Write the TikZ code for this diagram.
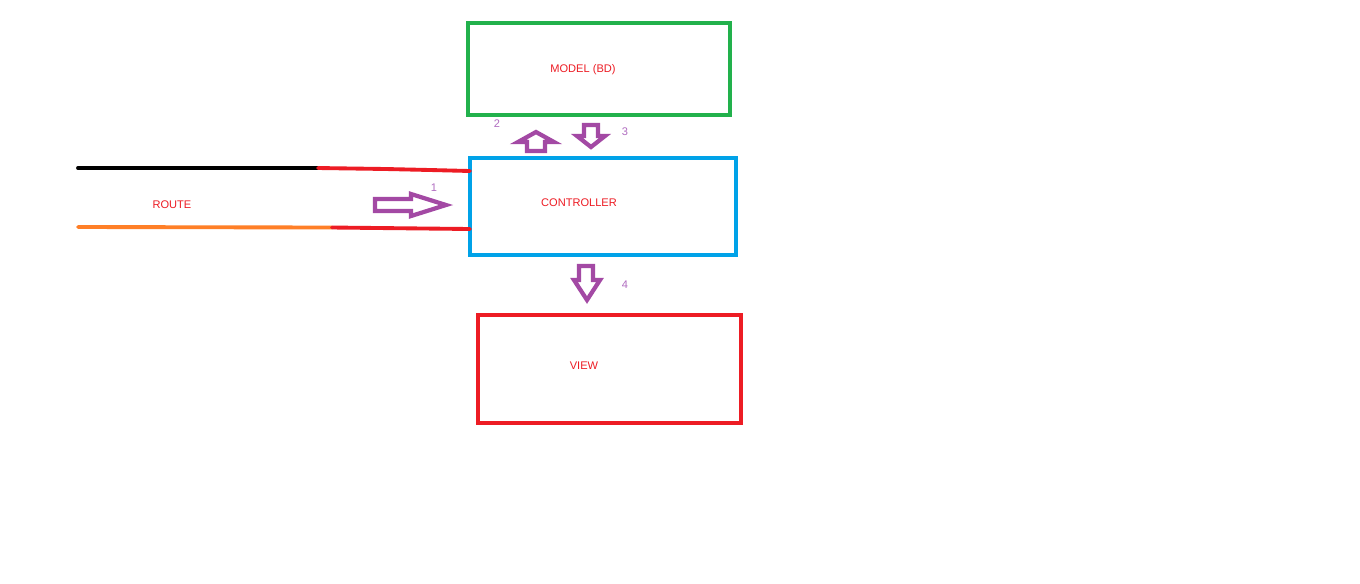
\documentclass[tikz,border=0pt]{standalone}
\usepackage{fontspec}
\setmainfont{Liberation Sans}
\usepackage{tikz}
\usetikzlibrary{positioning}
\definecolor{cModel}{HTML}{22B14C}
\definecolor{cCtrl}{HTML}{00A2E8}
\definecolor{cView}{HTML}{ED1C24}
\definecolor{cFlow}{HTML}{A349A4}
\definecolor{cRoute}{HTML}{FF7F27}
\definecolor{cNum}{HTML}{B06CC0}
\tikzset{
  box/.style   ={draw,line width=2.3pt,inner sep=0pt,outer sep=0pt,anchor=north west},
  mlbl/.style  ={text=cView,font=\fontsize{6.3}{7.5}\selectfont},
  num/.style   ={text=cNum,font=\fontsize{6.3}{7.5}\selectfont},
  wire/.style  ={line width=2.2pt,line cap=round},
  fat/.style   ={draw=cFlow,fill=white,line width=2.4pt,line join=miter},
}
\begin{document}
\begin{tikzpicture}[x=0.02cm,y=-0.02cm]
\useasboundingbox[fill=white] (0,0) rectangle (1360,583);

% the three blocks
\node[box,draw=cModel,minimum width=262*0.02cm,minimum height=92*0.02cm] (model) at (468,23) {};
\node[box,draw=cCtrl,minimum width=266*0.02cm,minimum height=97*0.02cm] (ctrl) at (470,158) {};
\node[box,draw=cView,minimum width=263*0.02cm,minimum height=108*0.02cm] (view) at (478,315) {};

\node[mlbl] (mtxt) at (583,70) {MODEL (BD)};
\node[mlbl] (ctxt) at (579,203) {CONTROLLER};
\node[mlbl] (vtxt) at (584,366) {VIEW};
\node[mlbl] (rtxt) at (172,205) {ROUTE};

% route wires
\coordinate (r1a) at (78,168);
\coordinate (r1b) at (318,168);
\coordinate (r2a) at (78,227);
\coordinate (r2b) at (332,227.5);
\draw[wire,black] (r1a) -- (r1b);
\draw[wire,cView] (r1b) -- (386,169) -- (430,170) -- (ctrl.north west |- 0,171);
\draw[wire,cRoute] (r2a) -- (r2b);
\draw[wire,cView] (r2b) -- (ctrl.north west |- 0,229);

% flow arrows
\draw[fat] (375,199) -- (411,199) -- (411,194) -- (446,205) -- (411,216) -- (411,211) -- (375,211) -- cycle;
\draw[fat] (527,151) -- (527,142) -- (518,142) -- (536,132) -- (554,142) -- (545,142) -- (545,151) -- cycle;
\draw[fat] (584,125) -- (598,125) -- (598,136) -- (605,136) -- (591,147) -- (577,136) -- (584,136) -- cycle;
\draw[fat] (579,266) -- (593,266) -- (593,280) -- (600,280) -- (587,300) -- (574,280) -- (579,280) -- cycle;

\node[num] (n1) at (434,188) {1};
\node[num] (n2) at (497,124) {2};
\node[num] (n3) at (625,132) {3};
\node[num] (n4) at (625,285) {4};
\end{tikzpicture}
\end{document}
